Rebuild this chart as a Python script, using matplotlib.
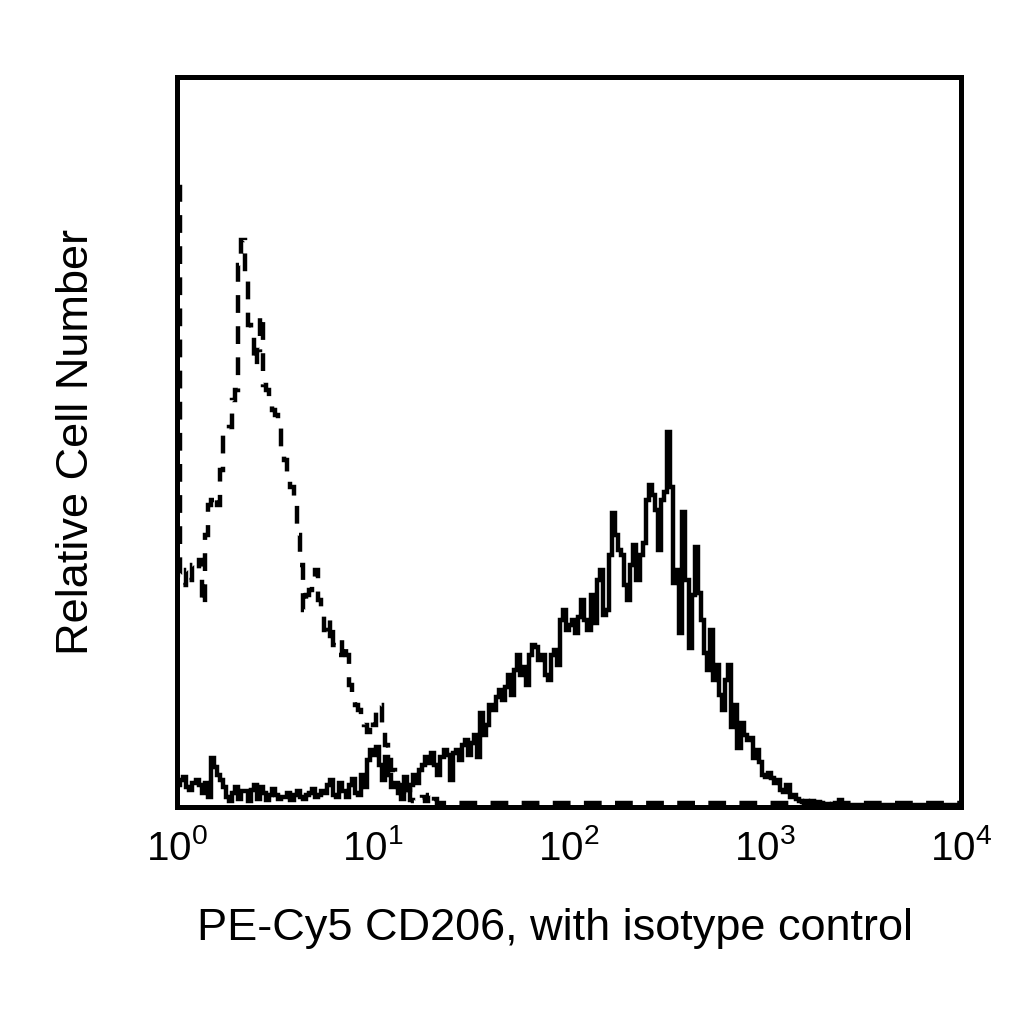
import numpy as np
import matplotlib
matplotlib.use("Agg")
import matplotlib.pyplot as plt

plt.rcParams['font.family'] = ['Liberation Sans', 'DejaVu Sans']

# 256 log-spaced channels across four decades (10^0 .. 10^4)
n_channels = 256
decades = 4

# CD206 (solid) counts per channel, arbitrary units
cd206 = [
    20, 25, 28, 18, 15, 22, 25, 20, 12, 22, 8, 47, 38, 30, 25, 18,
    8, 4, 12, 18, 6, 14, 14, 4, 15, 20, 6, 18, 12, 5, 10, 16,
    10, 6, 8, 8, 12, 5, 10, 14, 8, 6, 10, 12, 16, 8, 10, 14,
    12, 20, 25, 10, 8, 22, 14, 8, 20, 26, 12, 10, 30, 18, 45, 55,
    50, 58, 40, 25, 48, 30, 18, 22, 12, 6, 28, 15, 20, 30, 22, 35,
    40, 48, 42, 52, 40, 30, 48, 55, 50, 25, 52, 55, 45, 60, 65, 50,
    62, 70, 48, 92, 70, 80, 100, 95, 108, 115, 105, 118, 130, 110, 135, 150,
    130, 138, 120, 150, 160, 158, 145, 150, 130, 125, 150, 155, 140, 185, 195, 175,
    180, 185, 172, 188, 205, 185, 175, 210, 182, 225, 235, 190, 195, 250, 292, 270,
    255, 250, 220, 205, 240, 260, 225, 250, 262, 305, 320, 310, 295, 255, 305, 313,
    373, 318, 222, 235, 172, 293, 225, 157, 210, 258, 212, 185, 152, 135, 175, 125,
    140, 110, 95, 125, 140, 78, 100, 57, 82, 70, 65, 67, 47, 55, 43, 30,
    28, 32, 27, 22, 25, 15, 13, 20, 8, 10, 6, 4, 3, 4, 3, 4,
    2, 3, 2, 1, 1, 0, 1, 0, 5, 0, 0, 0, 0, 0, 0, 0,
    0, 0, 0, 0, 0, 0, 0, 0, 0, 0, 0, 0, 0, 0, 0, 0,
    0, 0, 0, 0, 0, 0, 0, 0, 0, 0, 0, 0, 0, 0, 0, 0,
]

# Isotype control (dashed) counts per channel, arbitrary units
isotype = [
    618, 230, 220, 235, 225, 240, 235, 245, 200, 270, 300, 305, 310, 300, 335, 370,
    372, 378, 405, 415, 540, 565, 530, 480, 470, 440, 455, 490, 420, 415, 400, 395,
    390, 380, 350, 345, 330, 318, 300, 270, 240, 195, 210, 215, 225, 235, 205, 195,
    175, 165, 185, 160, 150, 150, 165, 150, 120, 110, 100, 95, 88, 80, 73, 85,
    80, 95, 100, 75, 60, 45, 35, 25, 20, 12, 8, 15, 5, 4, 3, 5,
    8, 4, 10, 3, 6, 2, 2, 2, 2, 2, 2, 2, 2, 2, 2, 2,
    2, 2, 2, 2, 2, 2, 2, 2, 2, 2, 2, 2, 2, 2, 2, 2,
    2, 2, 2, 2, 2, 2, 2, 2, 2, 2, 2, 2, 2, 2, 2, 2,
    2, 2, 2, 2, 2, 2, 2, 2, 2, 2, 2, 2, 2, 2, 2, 2,
    2, 2, 2, 2, 2, 2, 2, 2, 2, 2, 2, 2, 2, 2, 2, 2,
    2, 2, 2, 2, 2, 2, 2, 2, 2, 2, 2, 2, 2, 2, 2, 2,
    2, 2, 2, 2, 2, 2, 2, 2, 2, 2, 2, 2, 2, 2, 2, 2,
    2, 2, 2, 2, 2, 2, 2, 2, 2, 2, 2, 2, 2, 2, 2, 2,
    2, 2, 2, 2, 2, 2, 2, 2, 2, 2, 2, 2, 2, 2, 2, 2,
    2, 2, 2, 2, 2, 2, 2, 2, 2, 2, 2, 2, 2, 2, 2, 2,
    2, 2, 2, 2, 2, 2, 2, 2, 2, 2, 2, 2, 2, 2, 2, 2,
]

x_ticks = [1, 10, 100, 1000, 10000]
x_tick_labels = [r'$\mathregular{10^{0}}$', r'$\mathregular{10^{1}}$',
                 r'$\mathregular{10^{2}}$', r'$\mathregular{10^{3}}$',
                 r'$\mathregular{10^{4}}$']
x_label = 'PE-Cy5 CD206, with isotype control'
y_label = 'Relative Cell Number'

edges = 10 ** (np.arange(n_channels + 1) * decades / n_channels)

fig = plt.figure(figsize=(10.24, 10.24), dpi=100)
ax = fig.add_axes([0.173, 0.212, 0.7655, 0.713])

ax.stairs(isotype, edges, color='black', linewidth=3.2,
          linestyle=(0, (4, 3.0)), baseline=None)
ax.stairs(cd206, edges, color='black', linewidth=3.2, baseline=None)

ax.set_xscale('log')
ax.set_xlim(1, 10000)
ax.set_ylim(-2, 728)

ax.set_xticks(x_ticks)
ax.set_xticklabels(x_tick_labels, fontsize=29)
ax.xaxis.set_minor_locator(matplotlib.ticker.NullLocator())
ax.tick_params(axis='x', length=0, pad=16)
ax.set_yticks([])

for s in ax.spines.values():
    s.set_linewidth(3.6)

ax.set_xlabel(x_label, fontsize=32.5, labelpad=29, x=0.482)
ax.set_ylabel(y_label, fontsize=32.5, labelpad=58)

fig.savefig('out.png', dpi=100, facecolor='white')
